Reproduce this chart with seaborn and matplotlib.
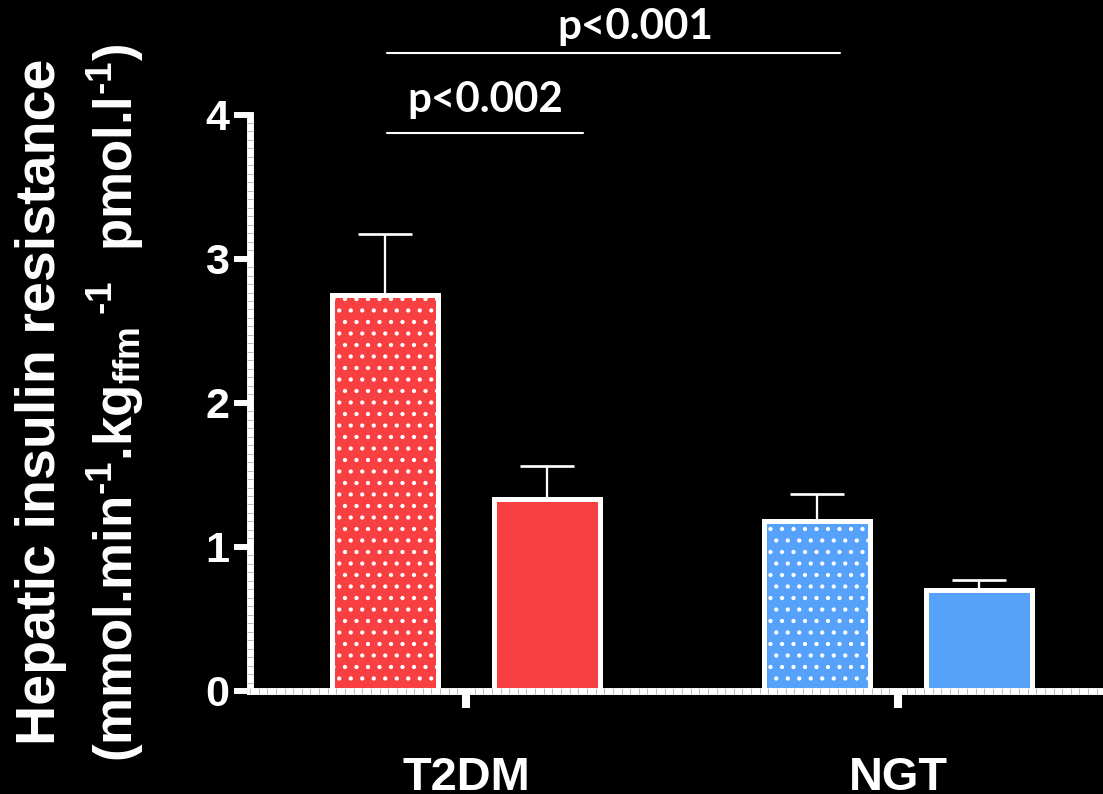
import numpy as np
import pandas as pd
import matplotlib
matplotlib.use("Agg")
import matplotlib.pyplot as plt
import seaborn as sns
from matplotlib.ticker import MultipleLocator

# ---------------- data ----------------
groups = ["T2DM", "NGT"]
conditions = ["Before", "After"]          # dotted bars, plain bars
means_before = [2.75, 1.18]
means_after = [1.33, 0.70]
sem_before = [0.42, 0.19]
sem_after = [0.23, 0.07]
y_ticks = [0, 1, 2, 3, 4]
p_labels = ["p<0.002", "p<0.001"]
group_colors = ["#F84042", "#56A1FA"]

df = pd.DataFrame({
    "group": groups * 2,
    "cond": [conditions[0]] * 2 + [conditions[1]] * 2,
    "value": means_before + means_after,
})
errors = {conditions[0]: sem_before, conditions[1]: sem_after}

# ---------------- style ----------------
sns.set_theme(style="ticks")
plt.rcParams["font.family"] = ["Liberation Sans", "DejaVu Sans"]
plt.rcParams["font.weight"] = "bold"
plt.rcParams["mathtext.fontset"] = "custom"
plt.rcParams["mathtext.rm"] = "Liberation Sans:bold"
plt.rcParams["mathtext.bf"] = "Liberation Sans:bold"
plt.rcParams["mathtext.it"] = "Liberation Sans:bold"
plt.rcParams["hatch.linewidth"] = 1.0

DPI = 138
W, H = 1103, 794
fig = plt.figure(figsize=(W / DPI, H / DPI), dpi=DPI, facecolor="black")
ax = fig.add_axes([250 / W, 1 - 691 / H, 1 - 250 / W, (691 - 114.5) / H])
ax.set_facecolor("black")

sns.barplot(data=df, x="group", y="value", hue="cond", order=groups,
            hue_order=conditions, width=0.75, gap=0.34, errorbar=None,
            legend=False, saturation=1, linewidth=2.6, edgecolor="white", ax=ax)

bar_containers = list(ax.containers)
for h, cont in enumerate(bar_containers):
    cond = conditions[h]
    for i, bar in enumerate(cont):
        bar.set_facecolor(group_colors[i])
        bar.set_edgecolor("white")
        bar.set_linewidth(2.6)
        bar.set_zorder(2)
        if h == 0:
            bar.set_hatch("..")
        xc = bar.get_x() + bar.get_width() / 2
        yv = bar.get_height()
        ax.errorbar(xc, yv, yerr=[[0], [errors[cond][i]]], color="white",
                    lw=1.2, capsize=14.3, capthick=1.4, zorder=1.5)

ax.set_xlim(-0.5, (W - 466) / 432)
ax.set_ylim(0, 4)
ax.set_yticks(y_ticks)
ax.set_xlabel("")
ax.set_ylabel("")

for s in ["top", "right"]:
    ax.spines[s].set_visible(False)
for s in ["left", "bottom"]:
    ax.spines[s].set_color("white")
    ax.spines[s].set_linewidth(3.6)
    ax.spines[s].set_zorder(2.4)
ax.set_axisbelow(False)

ax.tick_params(axis="y", which="major", direction="out", length=8.3, width=3.1,
               color="white", labelcolor="white", labelsize=22.5, pad=2.5)
ax.tick_params(axis="x", which="major", direction="out", length=8.9, width=4.2,
               color="white", labelcolor="white", labelsize=24.5, pad=25)
ax.yaxis.set_minor_locator(MultipleLocator(1 / 17))
ax.xaxis.set_minor_locator(MultipleLocator(0.02))
ax.tick_params(which="minor", direction="inout", length=3.4, width=0.5,
               color="#b8b8b8")
for lab in ax.get_xticklabels() + ax.get_yticklabels():
    lab.set_fontweight("bold")

# significance brackets
ax.plot([-0.183, 0.271], [3.870, 3.870], color="white", lw=1.1, clip_on=False)
ax.plot([-0.183, 0.866], [4.425, 4.425], color="white", lw=1.1, clip_on=False)
ax.text(0.044, 4.018, p_labels[0], ha="center", va="baseline", fontsize=22,
        family=["Lato", "DejaVu Sans"], fontweight="bold", color="white")
ax.text(0.392, 4.525, p_labels[1], ha="center", va="baseline", fontsize=22,
        family=["Lato", "DejaVu Sans"], fontweight="bold", color="white")

# y-axis title (two lines)
fig.text(55 / W, 1 - 401.7 / H, "Hepatic insulin resistance", rotation=90,
         rotation_mode="anchor", ha="center", va="baseline", fontsize=29,
         color="white", fontweight="bold")
fig.text(133 / W, 1 - 403 / H,
         r"$\text{(mmol.min}^{\text{-1}}\text{.kg}_{\text{ffm}}{}^{\text{ -1}}"
         r"\text{  pmol.l}^{\text{-1}}\text{)}$",
         rotation=90, rotation_mode="anchor", ha="center", va="baseline",
         fontsize=27.5, color="white")

fig.savefig("out.png", dpi=DPI, facecolor="black")
